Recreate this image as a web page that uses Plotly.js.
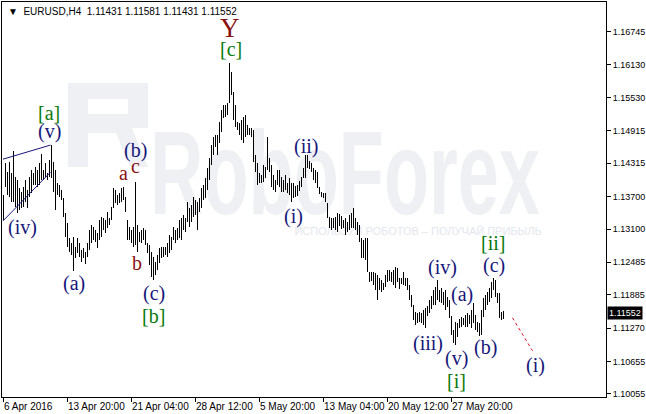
<!DOCTYPE html>
<html><head><meta charset="utf-8">
<script src="https://cdn.plot.ly/plotly-3.0.1.min.js"></script>
<style>html,body{margin:0;padding:0;background:#fff;overflow:hidden}
.scatterlayer path.js-line{shape-rendering:crispEdges}</style>
</head><body><div id="chart" style="width:646px;height:414px"></div>
<script>
// EURUSD H4 bars (high / low), one per bar, oldest first
const high = [
1.1373,1.1432,1.1415,1.1434,1.1413,1.1454,1.1406,1.1401,1.1386,1.1378,
1.1388,1.1401,1.1382,1.1406,1.1419,1.1413,1.1425,1.1419,1.1432,1.1449,
1.1419,1.1432,1.1413,1.1438,1.1465,1.1434,1.1419,1.1395,1.1391,1.1382,
1.1367,1.1340,1.1321,1.1293,1.1284,1.1295,1.1277,1.1293,1.1284,1.1271,
1.1275,1.1268,1.1284,1.1308,1.1317,1.1314,1.1308,1.1303,1.1327,1.1332,
1.1330,1.1327,1.1341,1.1330,1.1351,1.1386,1.1382,1.1373,1.1376,1.1386,
1.1388,1.1369,1.1327,1.1314,1.1308,1.1314,1.1397,1.1317,1.1304,1.1308,
1.1312,1.1308,1.1284,1.1280,1.1268,1.1258,1.1249,1.1262,1.1275,1.1277,
1.1277,1.1277,1.1284,1.1299,1.1295,1.1314,1.1308,1.1312,1.1327,1.1330,
1.1336,1.1330,1.1360,1.1349,1.1354,1.1369,1.1364,1.1360,1.1367,1.1386,
1.1391,1.1404,1.1423,1.1441,1.1465,1.1480,1.1484,1.1484,1.1508,1.1530,
1.1539,1.1539,1.1543,1.1617,1.1600,1.1563,1.1539,1.1508,1.1506,1.1511,
1.1517,1.1521,1.1502,1.1497,1.1497,1.1493,1.1447,1.1432,1.1413,1.1410,
1.1428,1.1425,1.1480,1.1441,1.1428,1.1410,1.1401,1.1419,1.1419,1.1406,
1.1401,1.1410,1.1395,1.1404,1.1395,1.1395,1.1390,1.1391,1.1399,1.1406,
1.1423,1.1447,1.1447,1.1436,1.1432,1.1423,1.1419,1.1415,1.1388,1.1378,
1.1376,1.1376,1.1358,1.1332,1.1330,1.1330,1.1332,1.1340,1.1338,1.1334,
1.1327,1.1330,1.1323,1.1336,1.1340,1.1349,1.1330,1.1323,1.1317,1.1293,
1.1290,1.1293,1.1293,1.1231,1.1231,1.1231,1.1229,1.1225,1.1220,1.1216,
1.1210,1.1225,1.1234,1.1234,1.1231,1.1234,1.1240,1.1238,1.1220,1.1220,
1.1231,1.1220,1.1220,1.1207,1.1188,1.1170,1.1157,1.1155,1.1157,1.1155,
1.1160,1.1164,1.1168,1.1179,1.1186,1.1197,1.1203,1.1216,1.1197,1.1201,
1.1194,1.1197,1.1185,1.1179,1.1149,1.1124,1.1138,1.1137,1.1144,1.1148,
1.1146,1.1151,1.1155,1.1151,1.1160,1.1173,1.1151,1.1138,1.1137,1.1160,
1.1183,1.1188,1.1194,1.1201,1.1212,1.1220,1.1216,1.1192,1.1192,1.1157,
1.11581];
const low = [
1.1327,1.1388,1.1373,1.1369,1.1360,1.1360,1.1351,1.1340,1.1345,1.1349,
1.1351,1.1360,1.1349,1.1369,1.1376,1.1391,1.1391,1.1388,1.1391,1.1401,
1.1401,1.1406,1.1401,1.1406,1.1404,1.1378,1.1345,1.1373,1.1369,1.1364,
1.1332,1.1295,1.1277,1.1268,1.1262,1.1232,1.1257,1.1266,1.1258,1.1249,
1.1257,1.1245,1.1258,1.1271,1.1284,1.1290,1.1286,1.1275,1.1290,1.1295,
1.1308,1.1303,1.1312,1.1317,1.1327,1.1349,1.1358,1.1354,1.1358,1.1360,
1.1364,1.1341,1.1290,1.1290,1.1284,1.1277,1.1280,1.1268,1.1286,1.1284,
1.1290,1.1280,1.1266,1.1244,1.1221,1.1216,1.1225,1.1234,1.1247,1.1257,
1.1258,1.1262,1.1258,1.1266,1.1271,1.1290,1.1284,1.1290,1.1293,1.1290,
1.1308,1.1304,1.1323,1.1314,1.1323,1.1332,1.1336,1.1308,1.1341,1.1349,
1.1364,1.1367,1.1382,1.1401,1.1428,1.1447,1.1462,1.1447,1.1469,1.1489,
1.1515,1.1517,1.1521,1.1543,1.1558,1.1511,1.1498,1.1493,1.1484,1.1474,
1.1469,1.1480,1.1484,1.1484,1.1480,1.1434,1.1415,1.1391,1.1395,1.1395,
1.1397,1.1404,1.1419,1.1415,1.1388,1.1382,1.1378,1.1391,1.1388,1.1378,
1.1378,1.1382,1.1376,1.1373,1.1360,1.1367,1.1369,1.1371,1.1380,1.1388,
1.1404,1.1404,1.1423,1.1421,1.1415,1.1401,1.1395,1.1386,1.1375,1.1369,
1.1367,1.1360,1.1330,1.1312,1.1308,1.1312,1.1308,1.1304,1.1316,1.1310,
1.1312,1.1299,1.1304,1.1308,1.1312,1.1312,1.1308,1.1299,1.1286,1.1257,
1.1257,1.1253,1.1231,1.1212,1.1214,1.1207,1.1197,1.1179,1.1197,1.1194,
1.1197,1.1203,1.1212,1.1214,1.1212,1.1207,1.1201,1.1212,1.1199,1.1208,
1.1207,1.1205,1.1197,1.1179,1.1166,1.1142,1.1133,1.1137,1.1138,1.1137,
1.1133,1.1127,1.1149,1.1155,1.1162,1.1170,1.1170,1.1179,1.1175,1.1173,
1.1170,1.1160,1.1166,1.1146,1.1114,1.1100,1.1096,1.1111,1.1127,1.1129,
1.1133,1.1129,1.1129,1.1135,1.1127,1.1137,1.1124,1.1120,1.1113,1.1114,
1.1148,1.1160,1.1170,1.1175,1.1183,1.1197,1.1185,1.1173,1.1146,1.1142,
1.11431];

const dateTickBars = [0, 32, 64, 96, 128, 160, 192, 224];
const dateTickLabels = ['6 Apr 2016','13 Apr 20:00','21 Apr 04:00','28 Apr 12:00','5 May 20:00','13 May 04:00','20 May 12:00','27 May 20:00'];
const priceTicks = [1.16745,1.16130,1.15530,1.14915,1.14315,1.13700,1.13100,1.12485,1.11885,1.11270,1.10655,1.10055];
const lastQuote = [1.11431, 1.11581, 1.11431, 1.11552]; // O H L C

// wave labels: [text, bar position, price, colour group]
const waveLabels = [
  ['[a]', 22.5, 1.1524, 'g'], ['(v)', 23, 1.1490, 'n'], ['(iv)', 9.5, 1.1312, 'n'],
  ['(a)', 35, 1.1210, 'n'], ['(b)', 66, 1.1455, 'n'], ['a', 60, 1.1413, 'r'],
  ['c', 66, 1.1426, 'r'], ['b', 66.7, 1.1247, 'r'], ['(c)', 75, 1.1190, 'n'],
  ['[b]', 75, 1.1149, 'g'], ['[c]', 113.5, 1.1643, 'g'],
  ['(ii)', 151, 1.1462, 'n'], ['(i)', 145, 1.1333, 'n'],
  ['(iv)', 219.5, 1.1238, 'n'], ['(a)', 229, 1.1189, 'n'], ['(iii)', 212, 1.1098, 'n'],
  ['(v)', 226.7, 1.1070, 'n'], ['[i]', 226.5, 1.1029, 'g'], ['(b)', 241, 1.1092, 'n'],
  ['(c)', 245, 1.1243, 'n'], ['[ii]', 244.5, 1.1285, 'g'], ['(i)', 266, 1.1058, 'n']
];
const colours = {g:'#0b7a0b', n:'#17177a', r:'#8a1010'};

const xs = [], ys = [];
high.forEach((h, i) => { xs.push(i, i, null); ys.push(low[i], h, null); });

const annotations = waveLabels.map(([t, x, y, c]) => ({
  text: t, x: x, y: y, xref: 'x', yref: 'y', showarrow: false,
  font: {family: 'Liberation Serif', size: 20, color: colours[c]}
}));
annotations.push({text:'Y', x:113.2, y:1.1681, xref:'x', yref:'y', showarrow:false,
  font:{family:'Liberation Serif', size:27, color:'#8a1010'}});
// date labels, left aligned at their ticks
dateTickBars.forEach((b, k) => annotations.push({text:dateTickLabels[k], x:b, y:0, xref:'x', yref:'paper',
  xanchor:'left', yanchor:'top', yshift:-2, xshift:-2, showarrow:false,
  font:{family:'Liberation Sans', size:10, color:'#000'}}));
// header
annotations.push({text:'▼  EURUSD,H4  ' + lastQuote.map(v=>v.toFixed(5)).join(' '),
  x:0, y:1, xref:'paper', yref:'paper', xanchor:'left', yanchor:'top', xshift:4, yshift:-2,
  showarrow:false, font:{family:'Liberation Sans', size:10, color:'#000'}});
// current price tag
annotations.push({text:lastQuote[3].toFixed(5), x:1, y:lastQuote[3], xref:'paper', yref:'y',
  xanchor:'left', yanchor:'middle', xshift:1, showarrow:false, bgcolor:'#000', borderpad:1,
  font:{family:'Liberation Sans', size:9, color:'#fff'}});

const WM = '#eef0f4';
const shapes = [
  // faint logo mark of the watermark (drawn beneath the bars)
  {type:'path', layer:'below', xref:'paper', yref:'paper', line:{width:0}, fillcolor:WM,
   path:'M0.1093,0.7949 L0.2417,0.7949 L0.2417,0.6810 L0.2152,0.6810 L0.2417,0.5823 L0.2119,0.5823 L0.1887,0.6684 L0.1424,0.6684 L0.1424,0.5823 L0.1093,0.5823 Z M0.1424,0.7544 L0.2086,0.7544 L0.2086,0.7165 L0.1424,0.7165 Z'},
  {type:'line', xref:'x', yref:'y', x0:-0.25, y0:1.1439, x1:23.5, y1:1.1465, line:{color:'#17177a', width:1}},
  {type:'line', xref:'x', yref:'y', x0:-0.25, y0:1.1325, x1:23.5, y1:1.1415, line:{color:'#17177a', width:1}},
  {type:'line', xref:'x', yref:'y', x0:254.5, y0:1.1146, x1:264.5, y1:1.1085, line:{color:'#e0102a', width:1, dash:'dot'}}
];

// watermark text traces (drawn first, under the bars)
const wmTitle = {type:'scatter', mode:'text', x:[170.75], y:[1.1393], text:['RoboForex'], hoverinfo:'skip',
  textposition:'middle center', textfont:{family:'Liberation Sans', size:118, weight:'bold', color:WM}};
const wmSlogan = {type:'scatter', mode:'text', x:[207.3], y:[1.1304], text:['ИСПОЛЬЗУЙ РОБОТОВ – ПОЛУЧАЙ ПРИБЫЛЬ'],
  hoverinfo:'skip', textposition:'middle center', textfont:{family:'Liberation Sans', size:11, color:'#e3e7ee'}};
const bars = {type:'scatter', mode:'lines', x:xs, y:ys, line:{color:'#000', width:1}, hoverinfo:'skip'};

const layout = {
  width:646, height:414, margin:{l:2, r:40, t:2, b:17},
  paper_bgcolor:'#fff', plot_bgcolor:'#fff', showlegend:false,
  xaxis:{range:[-0.75, 301.25], showgrid:false, zeroline:false, showline:true, mirror:true,
    linecolor:'#000', linewidth:1, tickvals:dateTickBars, showticklabels:false,
    ticks:'outside', ticklen:4, tickcolor:'#000'},
  yaxis:{range:[1.09997, 1.17293], side:'right', showgrid:false, zeroline:false, showline:true, mirror:true,
    linecolor:'#000', linewidth:1, tickvals:priceTicks, ticktext:priceTicks.map(v=>v.toFixed(5)),
    ticks:'outside', ticklen:4, tickcolor:'#000',
    tickfont:{family:'Liberation Sans', size:9, color:'#000'}},
  annotations: annotations, shapes: shapes
};
Plotly.newPlot('chart', [wmTitle, wmSlogan, bars], layout, {staticPlot:true}).then(gd => {
  gd.querySelectorAll('.scatterlayer text').forEach(t => {
    if (t.textContent === 'RoboForex') {
      const b = t.getBBox(); const cx = b.x + b.width / 2;
      const prev = t.getAttribute('transform') || '';
      t.setAttribute('transform', 'translate(' + cx + ',0) scale(0.626,1) translate(' + (-cx) + ',0) ' + prev);
    }
  });
});
</script></body></html>
